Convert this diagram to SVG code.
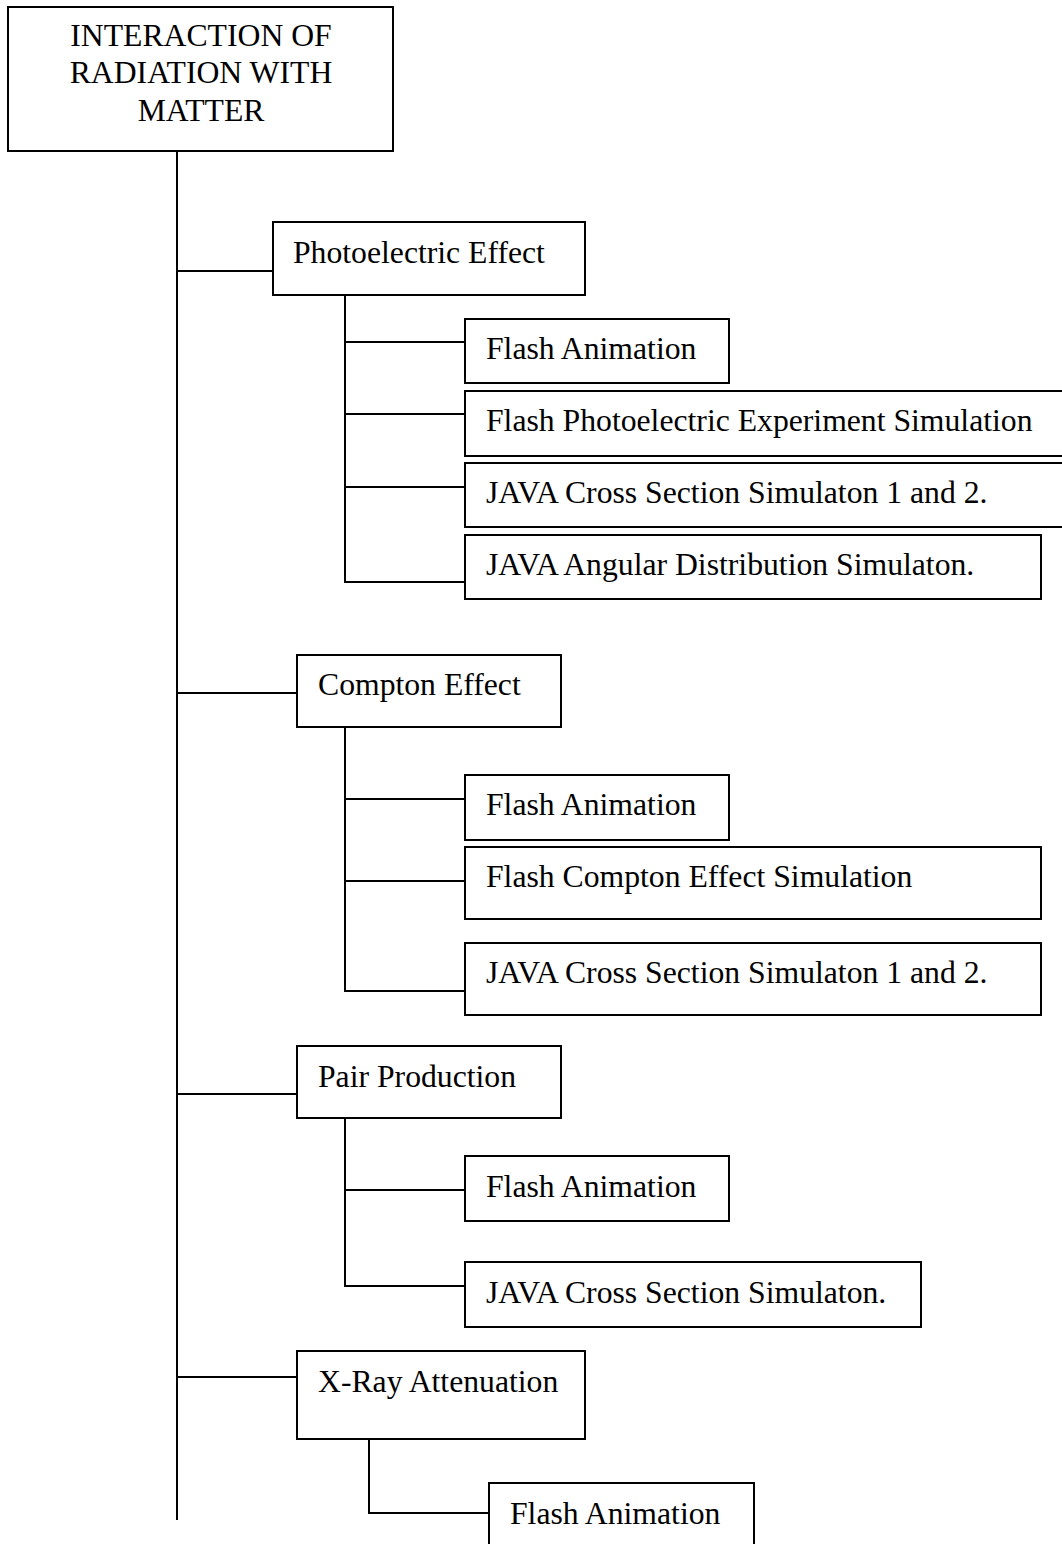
<svg xmlns="http://www.w3.org/2000/svg" width="1062" height="1544" viewBox="0 0 1062 1544">
<style>
rect{fill:#fff;stroke:#000;stroke-width:2}
text{font-family:"Liberation Serif","Times New Roman",serif;font-size:31.7px;fill:#000}
.c line{stroke:#000;stroke-width:2}
</style>
<rect x="0" y="0" width="1062" height="1544" style="stroke:none"/>
<g class="c" id="connectors">
<line x1="177" y1="151" x2="177" y2="1520"/>
<line x1="177" y1="271" x2="273" y2="271"/>
<line x1="177" y1="693" x2="297" y2="693"/>
<line x1="177" y1="1094" x2="297" y2="1094"/>
<line x1="177" y1="1377" x2="297" y2="1377"/>
<line x1="345" y1="295" x2="345" y2="583"/>
<line x1="344" y1="342" x2="465" y2="342"/>
<line x1="344" y1="414" x2="465" y2="414"/>
<line x1="344" y1="487" x2="465" y2="487"/>
<line x1="344" y1="582" x2="465" y2="582"/>
<line x1="345" y1="727" x2="345" y2="992"/>
<line x1="344" y1="799" x2="465" y2="799"/>
<line x1="344" y1="881" x2="465" y2="881"/>
<line x1="344" y1="991" x2="465" y2="991"/>
<line x1="345" y1="1118" x2="345" y2="1287"/>
<line x1="344" y1="1190" x2="465" y2="1190"/>
<line x1="344" y1="1286" x2="465" y2="1286"/>
<line x1="369" y1="1440" x2="369" y2="1514"/>
<line x1="368" y1="1513" x2="489" y2="1513"/>
</g>
<g id="root">
<rect x="8" y="7" width="385" height="144"/>
<text x="201" y="46" text-anchor="middle">INTERACTION OF</text>
<text x="201" y="83" text-anchor="middle">RADIATION WITH</text>
<text x="201" y="121" text-anchor="middle">MATTER</text>
</g>
<g id="photoelectric">
<rect x="273" y="222" width="312" height="73"/>
<text x="293" y="263">Photoelectric Effect</text>
</g>
<g id="pe-flash">
<rect x="465" y="319" width="264" height="64"/>
<text x="486" y="359">Flash Animation</text>
</g>
<g id="pe-flash-sim">
<rect x="465" y="391" width="610" height="65"/>
<text x="486" y="431">Flash Photoelectric Experiment Simulation</text>
</g>
<g id="pe-java-cross">
<rect x="465" y="463" width="610" height="64"/>
<text x="486" y="503">JAVA Cross Section Simulaton 1 and 2.</text>
</g>
<g id="pe-java-angular">
<rect x="465" y="535" width="576" height="64"/>
<text x="486" y="575">JAVA Angular Distribution Simulaton.</text>
</g>
<g id="compton">
<rect x="297" y="655" width="264" height="72"/>
<text x="318" y="695">Compton Effect</text>
</g>
<g id="ce-flash">
<rect x="465" y="775" width="264" height="65"/>
<text x="486" y="815">Flash Animation</text>
</g>
<g id="ce-flash-sim">
<rect x="465" y="847" width="576" height="72"/>
<text x="486" y="887">Flash Compton Effect Simulation</text>
</g>
<g id="ce-java-cross">
<rect x="465" y="943" width="576" height="72"/>
<text x="486" y="983">JAVA Cross Section Simulaton 1 and 2.</text>
</g>
<g id="pair">
<rect x="297" y="1046" width="264" height="72"/>
<text x="318" y="1087">Pair Production</text>
</g>
<g id="pp-flash">
<rect x="465" y="1156" width="264" height="65"/>
<text x="486" y="1197">Flash Animation</text>
</g>
<g id="pp-java-cross">
<rect x="465" y="1262" width="456" height="65"/>
<text x="486" y="1303">JAVA Cross Section Simulaton.</text>
</g>
<g id="xray">
<rect x="297" y="1351" width="288" height="88"/>
<text x="318" y="1392">X-Ray Attenuation</text>
</g>
<g id="xr-flash">
<rect x="489" y="1483" width="265" height="80"/>
<text x="510" y="1524">Flash Animation</text>
</g>
</svg>
